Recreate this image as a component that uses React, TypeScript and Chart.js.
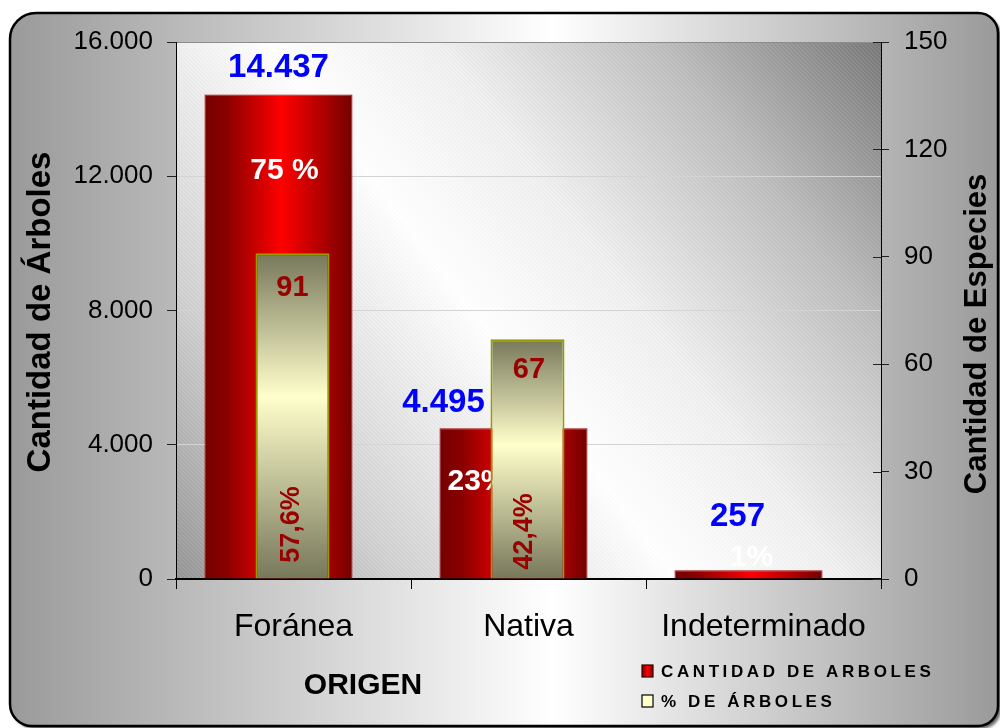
import React, { useEffect, useRef } from 'react';
import { Chart, registerables } from 'chart.js';

Chart.register(...registerables);

// ---------- data ----------
const categories = ['Foránea', 'Nativa', 'Indeterminado'];
const cantidadArboles = [14437, 4495, 257];
const cantidadEspecies: (number | null)[] = [91, 67, null];
const porcentajeArboles = ['75 %', '23%', '1%'];
const porcentajeEspecies = ['57,6%', '42,4%', ''];
const leftTicks = [0, 4000, 8000, 12000, 16000];
const rightTicks = [0, 30, 60, 90, 120, 150];
const legendLabels = ['CANTIDAD DE ARBOLES', '% DE ÁRBOLES'];
const axisTitleLeft = 'Cantidad de Árboles';
const axisTitleRight = 'Cantidad de Especies';
const axisTitleX = 'ORIGEN';

// ---------- style ----------
const FONT = '"Liberation Sans", Arial, Helvetica, sans-serif';
const RED_PCT = 0.63;
const YEL_PCT = 0.315;
const SHIFT = [-15, -1];
// label offsets (px) relative to each bar's anchor
const blueOffsets = [[0, -27], [-70, -25], [-11, -53]];
const whiteOffsets = [[6, 76], [-36, 54], [3, -13]];
const darkOffsets = [[0, 35], [1.5, 31], [0, 0]];
const rotOffsets = [[-1, -54], [-2.5, -47], [0, 0]];

const fmtMiles = (v: number) => String(Math.round(v)).replace(/\B(?=(\d{3})+(?!\d))/g, '.');
const ok = (...n: number[]) => n.every((v) => Number.isFinite(v));

function drawText(ctx: CanvasRenderingContext2D, s: string, x: number, y: number, font: string, color: string, rot = 0) {
  ctx.save();
  ctx.translate(x, y);
  if (rot) ctx.rotate(rot);
  ctx.font = font;
  ctx.fillStyle = color;
  ctx.textAlign = 'center';
  ctx.textBaseline = 'middle';
  ctx.fillText(s, 0, 0);
  ctx.restore();
}

function drawSpaced(ctx: CanvasRenderingContext2D, s: string, x: number, y: number, spacing: number) {
  let cx = x;
  for (const ch of s) {
    ctx.fillText(ch, cx, y);
    cx += ctx.measureText(ch).width + spacing;
  }
}

const redGrad = (c: any) => {
  const chart = c.chart;
  const xs = chart.scales && chart.scales.x;
  if (!xs || c.type !== 'data') return '#d00000';
  const cx = xs.getPixelForValue(c.dataIndex) + SHIFT[0];
  const w = (xs.width / categories.length) * RED_PCT;
  if (!ok(cx, w) || w <= 0) return '#d00000';
  const g = chart.ctx.createLinearGradient(cx - w / 2, 0, cx + w / 2, 0);
  g.addColorStop(0, '#760000');
  g.addColorStop(0.15, '#8a0000');
  g.addColorStop(0.52, '#ff0000');
  g.addColorStop(0.85, '#a00000');
  g.addColorStop(1, '#740000');
  return g;
};

const yelGrad = (c: any) => {
  const chart = c.chart;
  const ys = chart.scales && chart.scales.y1;
  if (!ys || c.type !== 'data' || c.raw == null) return '#ffffcc';
  const top = ys.getPixelForValue(c.raw);
  const base = ys.getPixelForValue(0);
  if (!ok(top, base) || base - top < 1) return '#ffffcc';
  const g = chart.ctx.createLinearGradient(0, top, 0, base);
  g.addColorStop(0, '#77775b');
  g.addColorStop(0.44, '#ffffcc');
  g.addColorStop(1, '#77775b');
  return g;
};

const decorPlugin = {
  id: 'decor',
  beforeDraw(chart: any) {
    const { ctx, chartArea: a } = chart;
    if (!a) return;
    ctx.save();
    // outer frame
    const fx = 10, fy = 13, fw = 988, fh = 713;
    ctx.shadowColor = 'rgba(0,0,0,0.6)';
    ctx.shadowOffsetX = 3;
    ctx.shadowOffsetY = 3;
    ctx.shadowBlur = 3;
    const g = ctx.createLinearGradient(fx, 0, fx + fw, 0);
    g.addColorStop(0, '#9a9a9a');
    g.addColorStop(0.55, '#ffffff');
    g.addColorStop(1, '#9a9a9a');
    ctx.beginPath();
    ctx.roundRect(fx, fy, fw, fh, [26, 20, 20, 22]);
    ctx.fillStyle = g;
    ctx.fill();
    ctx.shadowColor = 'transparent';
    ctx.lineWidth = 2.5;
    ctx.strokeStyle = '#000';
    ctx.stroke();
    // plot area background
    const pg = ctx.createLinearGradient(a.left, a.bottom, a.right, a.top);
    pg.addColorStop(0, '#959595');
    pg.addColorStop(0.2, '#d0d0d0');
    pg.addColorStop(0.45, '#ffffff');
    pg.addColorStop(0.6, '#f0f0f0');
    pg.addColorStop(0.8, '#bdbdbd');
    pg.addColorStop(1, '#787878');
    ctx.fillStyle = pg;
    ctx.fillRect(a.left, a.top, a.right - a.left, a.bottom - a.top);
    // fine diagonal hatching
    const tile = document.createElement('canvas');
    tile.width = 4;
    tile.height = 4;
    const t = tile.getContext('2d')!;
    t.strokeStyle = 'rgba(255,255,255,0.12)';
    t.lineWidth = 1;
    t.beginPath();
    t.moveTo(0, 0);
    t.lineTo(4, 4);
    t.stroke();
    t.strokeStyle = 'rgba(0,0,0,0.025)';
    t.beginPath();
    t.moveTo(2, 0);
    t.lineTo(4, 2);
    t.moveTo(0, 2);
    t.lineTo(2, 4);
    t.stroke();
    const pat = ctx.createPattern(tile, 'repeat');
    if (pat) {
      ctx.fillStyle = pat;
      ctx.fillRect(a.left, a.top, a.right - a.left, a.bottom - a.top);
    }
    ctx.restore();
  },
  afterDraw(chart: any) {
    const { ctx, chartArea: a } = chart;
    if (!a) return;
    // inner part of right axis ticks (they cross the axis)
    const y1 = chart.scales.y1;
    ctx.save();
    ctx.strokeStyle = '#222';
    ctx.lineWidth = 1;
    y1.ticks.forEach((tk: any) => {
      const py = Math.round(y1.getPixelForValue(tk.value)) + 0.5;
      ctx.beginPath();
      ctx.moveTo(a.right - 8, py);
      ctx.lineTo(a.right, py);
      ctx.stroke();
    });
    // axis titles
    drawText(ctx, axisTitleLeft, 41, 312, `bold 33px ${FONT}`, '#000', -Math.PI / 2);
    drawText(ctx, axisTitleRight, 977, 334, `bold 31px ${FONT}`, '#000', -Math.PI / 2);
    drawText(ctx, axisTitleX, 363, 686, `bold 30px ${FONT}`, '#000');
    // legend
    const lx = 642;
    const rows = [671, 701];
    const rg = ctx.createLinearGradient(lx, 0, lx + 11, 0);
    rg.addColorStop(0, '#800000');
    rg.addColorStop(0.5, '#ff0000');
    rg.addColorStop(1, '#800000');
    ctx.fillStyle = rg;
    ctx.fillRect(lx, rows[0] - 6, 11, 12);
    ctx.strokeStyle = '#300';
    ctx.lineWidth = 1.2;
    ctx.strokeRect(lx, rows[0] - 6, 11, 12);
    ctx.fillStyle = '#ffffcc';
    ctx.fillRect(lx, rows[1] - 6, 11, 12);
    ctx.strokeStyle = '#000';
    ctx.strokeRect(lx, rows[1] - 6, 11, 12);
    ctx.font = `bold 17px ${FONT}`;
    ctx.fillStyle = '#000';
    ctx.textAlign = 'left';
    ctx.textBaseline = 'middle';
    legendLabels.forEach((s, i) => drawSpaced(ctx, s, lx + 19, rows[i] + 1, 3.6));
    ctx.restore();
  },
};

const shiftPlugin = {
  id: 'shift',
  afterDatasetsUpdate(chart: any) {
    chart.data.datasets.forEach((_d: any, i: number) => {
      const meta = chart.getDatasetMeta(i);
      meta.data.forEach((el: any) => {
        el.x += SHIFT[i];
      });
    });
  },
};

const labelPlugin = {
  id: 'barLabels',
  afterDatasetDraw(chart: any, args: any) {
    const ctx = chart.ctx;
    const meta = args.meta;
    if (args.index === 0) {
      meta.data.forEach((bar: any, i: number) => {
        drawText(ctx, porcentajeArboles[i], bar.x + whiteOffsets[i][0], bar.y + whiteOffsets[i][1], `bold 30px ${FONT}`, '#ffffff');
        drawText(ctx, fmtMiles(cantidadArboles[i]), bar.x + blueOffsets[i][0], bar.y + blueOffsets[i][1], `bold 33px ${FONT}`, '#0000ff');
      });
    } else if (args.index === 1) {
      meta.data.forEach((bar: any, i: number) => {
        const v = cantidadEspecies[i];
        if (v == null) return;
        drawText(ctx, String(v), bar.x + darkOffsets[i][0], bar.y + darkOffsets[i][1], `bold 29px ${FONT}`, '#990000');
        drawText(ctx, porcentajeEspecies[i], bar.x + rotOffsets[i][0], bar.base + rotOffsets[i][1], `bold 27px ${FONT}`, '#990000', -Math.PI / 2);
      });
    }
  },
};

export default function App() {
  const ref = useRef<HTMLCanvasElement>(null);
  useEffect(() => {
    if (!ref.current) return;
    const chart = new Chart(ref.current, {
      type: 'bar',
      data: {
        labels: categories,
        datasets: [
          {
            label: legendLabels[0],
            data: cantidadArboles,
            yAxisID: 'y',
            order: 2,
            grouped: false,
            barPercentage: RED_PCT,
            categoryPercentage: 1,
            backgroundColor: redGrad,
            borderColor: '#a00000',
            borderWidth: 1,
          } as any,
          {
            label: legendLabels[1],
            data: cantidadEspecies,
            yAxisID: 'y1',
            order: 1,
            grouped: false,
            barPercentage: YEL_PCT,
            categoryPercentage: 1,
            backgroundColor: yelGrad,
            borderColor: '#999900',
            borderWidth: 2,
          } as any,
        ],
      },
      options: {
        responsive: false,
        animation: false,
        events: [],
        layout: { padding: { top: 42, left: 0, right: 0, bottom: 0 } },
        plugins: { legend: { display: false }, tooltip: { enabled: false } },
        scales: {
          x: {
            offset: true,
            afterFit: (s: any) => {
              s.height = 149;
            },
            ticks: { font: { family: FONT, size: 32 }, color: '#000', padding: 19, maxRotation: 0, autoSkip: false },
            grid: { offset: true, drawOnChartArea: false, tickLength: 10, tickColor: '#000' },
            border: { display: true, color: '#000', width: 2 },
          },
          y: {
            position: 'left',
            min: 0,
            max: 16000,
            afterBuildTicks: (s: any) => {
              s.ticks = leftTicks.map((v) => ({ value: v }));
            },
            afterFit: (s: any) => {
              s.width = 176;
            },
            ticks: { font: { family: FONT, size: 26 }, color: '#000', padding: 14, callback: (v: any) => fmtMiles(Number(v)) },
            grid: {
              color: (c: any) => (c.tick && c.tick.value === 16000 ? '#8c8c8c' : '#d4d4d4'),
              lineWidth: 1,
              tickLength: 9,
              tickColor: '#222',
            },
            border: { display: true, color: '#000', width: 1 },
          },
          y1: {
            position: 'right',
            min: 0,
            max: 150,
            afterBuildTicks: (s: any) => {
              s.ticks = rightTicks.map((v) => ({ value: v }));
            },
            afterFit: (s: any) => {
              s.width = 119;
            },
            ticks: { font: { family: FONT, size: 26 }, color: '#000', padding: 15 },
            grid: { drawOnChartArea: false, tickLength: 8, tickColor: '#222' },
            border: { display: true, color: '#000', width: 1 },
          },
        },
      } as any,
      plugins: [decorPlugin, shiftPlugin, labelPlugin],
    });
    return () => chart.destroy();
  }, []);
  return (
    <div style={{ position: 'absolute', left: 0, top: 0, width: 1000, height: 728, background: '#fff' }}>
      <canvas ref={ref} width={1000} height={728} style={{ display: 'block', width: 1000, height: 728 }} />
    </div>
  );
}
